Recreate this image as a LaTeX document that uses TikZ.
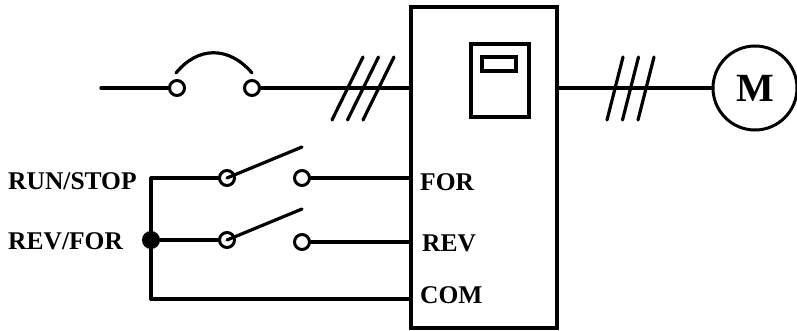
\documentclass[tikz,border=0pt]{standalone}
\usepackage{fontspec}
\setmainfont{Liberation Serif}
\tikzset{
	wire/.style={line width=3.2pt, line cap=round},
	terminal/.style={draw, circle, fill=white, line width=3pt, inner sep=0pt, minimum size=15pt},
	sig/.style={anchor=west, inner sep=0pt, font=\fontsize{25.5}{25.5}\selectfont\bfseries},
	frame/.style={draw, rectangle, line width=3.4pt, inner sep=0pt},
}
\begin{document}
\begin{tikzpicture}[x=1pt, y=-1pt]

		\useasboundingbox (0,0) rectangle (797,331);

		% Nodes
		\node[frame, minimum width=146pt, minimum height=321pt] (vfd) at (484,167.5) {};
		\node[frame, minimum width=58pt, minimum height=73pt] (panel) at (500,80.5) {};
		\node[frame, minimum width=34pt, minimum height=14pt] (screen) at (499,64) {};
		\node[draw, circle, line width=3pt, inner sep=0pt, minimum size=84pt, font=\fontsize{40}{40}\selectfont\bfseries] (motor) at (755,88) {M};

		\coordinate (in) at (101,88);
		\coordinate (run) at (151,178);
		\coordinate (com) at (151,299);
		\node[fill, circle, inner sep=0pt, minimum size=18pt] (dot) at (151,240) {};

		\node[terminal] (b1) at (177,88) {};
		\node[terminal] (b2) at (252,88) {};
		\node[terminal] (s1) at (227,178) {};
		\node[terminal] (s2) at (302,178) {};
		\node[terminal] (s3) at (227,240) {};
		\node[terminal] (s4) at (302,242) {};

		\coordinate (a1) at (302,147);
		\coordinate (a2) at (302,209);

		% Labels
		\node[sig] (lrun) at (8,181) {RUN/STOP};
		\node[sig] (lrev) at (8,241) {REV/FOR};
		\node[sig] (lfor) at (420,182) {FOR};
		\node[sig] (lrv) at (422,243) {REV};
		\node[sig] (lcom) at (420,295) {COM};

		% Edges
		\draw[wire] (in) -- (b1);
		\draw[wire] (b2) -- (vfd.west |- b2);
		\draw[wire] (vfd.east |- motor) -- (motor);
		\draw[wire] (176,73) .. controls (198,46) and (229,46) .. (252,73);
		\draw[wire] (run) -- (s1);
		\draw[wire] (run) -- (com);
		\draw[wire] (dot) -- (s3);
		\draw[wire] (s2) -- (vfd.west |- s2);
		\draw[wire] (s4) -- (vfd.west |- s4);
		\draw[wire] (com) -- (vfd.west |- com);
		\draw[wire] (s1.center) -- (a1);
		\draw[wire] (s3.center) -- (a2);

		% Slashes
		\foreach \x in {0,15.5,31} {
			\draw[wire] (332+\x,120) -- (363+\x,57);
			\draw[wire] (607+\x,120) -- (623+\x,57);
		}

	\end{tikzpicture}
\end{document}
